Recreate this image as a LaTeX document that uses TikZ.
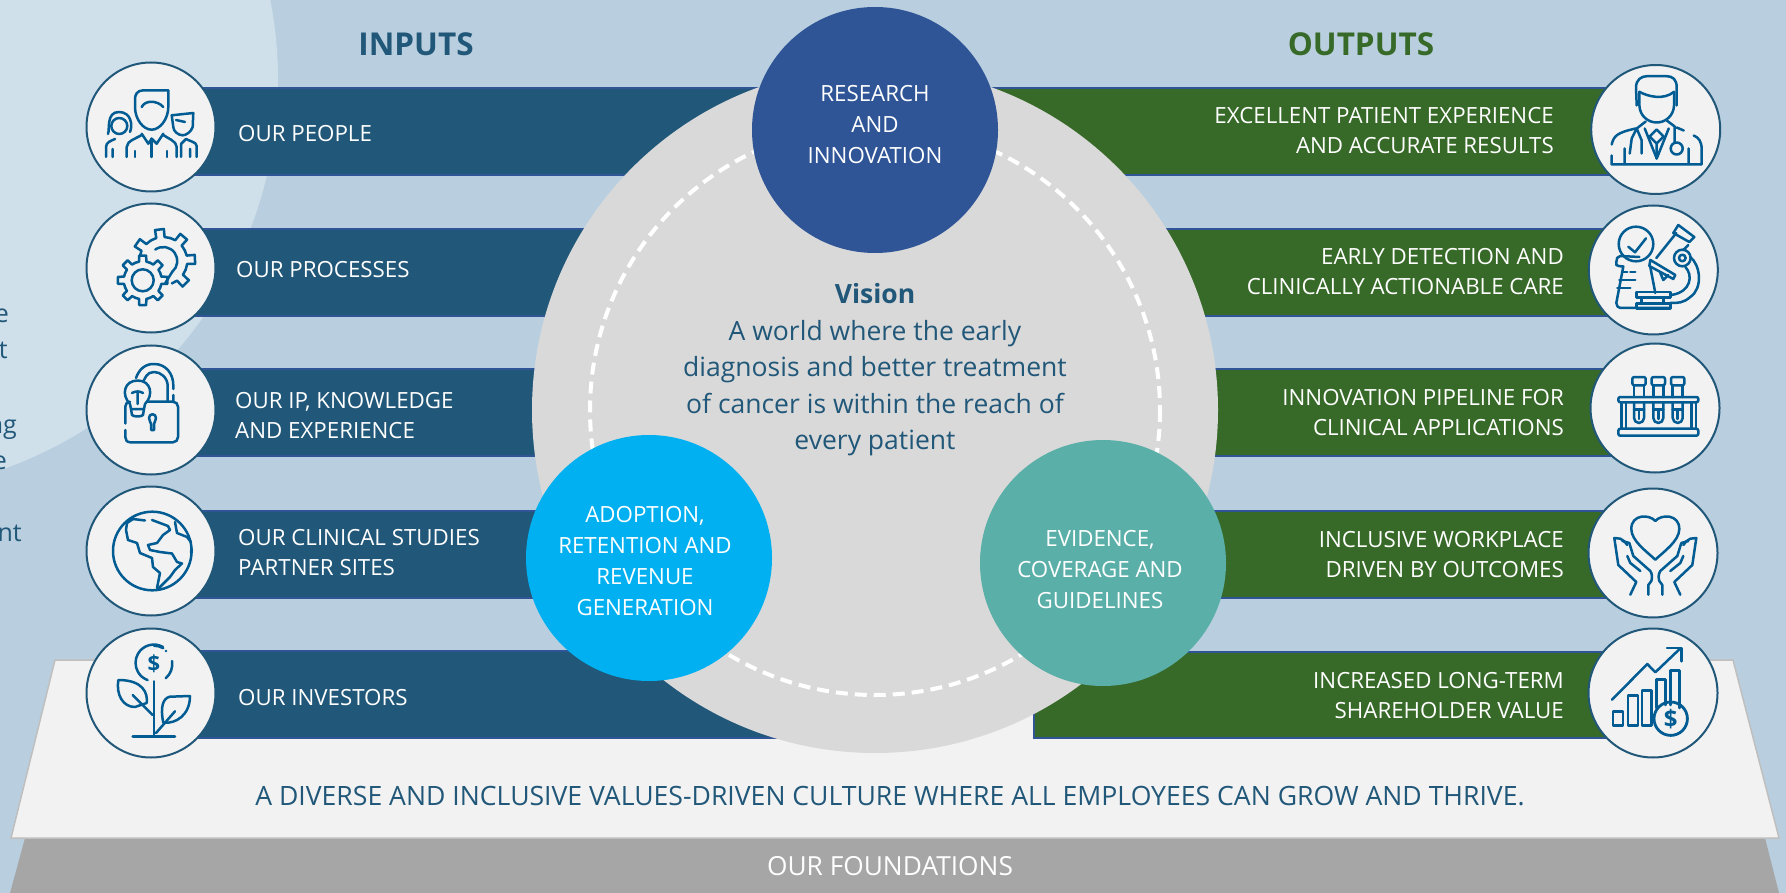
\documentclass[tikz,border=0pt]{standalone}
\usepackage{fontspec}
\setmainfont{Open Sans}
\definecolor{skyback}{HTML}{B9CFDF}
\definecolor{skylight}{HTML}{CFE0EB}
\definecolor{inblue}{HTML}{215778}
\definecolor{outgreen}{HTML}{376A28}
\definecolor{barrim}{HTML}{2F5597}
\definecolor{iconblue}{HTML}{005C92}
\definecolor{researchblue}{HTML}{2F5597}
\definecolor{adoptblue}{HTML}{00B0F0}
\definecolor{evidteal}{HTML}{5AAFA9}
\tikzset{
	inbar/.style={fill=inblue,draw=barrim,line width=1.5pt},
	outbar/.style={fill=outgreen,draw=barrim,line width=1.5pt},
	iconring/.style={circle,draw=inblue,fill=black!5,line width=2pt,minimum size=129pt,inner sep=0pt},
	iconline/.style={draw=iconblue,line width=2.5pt,line cap=round,line join=round},
	hub/.style={circle,minimum size=246pt,inner sep=0pt},
	hubtext/.style={text=white,inner sep=0pt,align=center,font=\fontsize{22.3}{31}\selectfont},
	barlabel/.style={text=white,inner sep=0pt,font=\fontsize{22.3}{30}\selectfont},
	heading/.style={font=\fontsize{31.5}{36}\selectfont\bfseries,inner sep=0pt},
	cutword/.style={text=inblue,inner sep=0pt,anchor=base east,font=\fontsize{25}{30}\selectfont}
}
%icons, drawn round the centre of their ring
\newcommand{\iconpeople}{
	\draw[iconline] (17.3,-36.7)--(-7.7,-36.7) .. controls (-14,-36.7) and (-16,-32) .. (-16,-28) -- (-16,-20) .. controls (-16,-8) and (-8,2.7) .. (0.7,2.7) .. controls (9,2.7) and (17.3,-8) .. (17.3,-20) -- cycle;
	\draw[iconline] (-9.3,-20) .. controls (-6,-27) and (6,-27) .. (12.3,-20);
	\draw[iconline] (-9.3,6.7)--(-2.7,16.7)--(0.7,11.7)--(5.7,16.7)--(12.3,6.7);
	\draw[iconline] (-24.3,30)--(-24.3,20) .. controls (-24.3,14) and (-14,11) .. (-9.3,8);
	\draw[iconline] (25.7,30)--(25.7,20) .. controls (25.7,14) and (16,11) .. (12.3,8);
	\draw[iconline] (0.7,11.7)--(0.7,30) (-16,24)--(-16,30) (16,24)--(16,30);
	\draw[iconline] (-43,7) .. controls (-41,2) and (-45,-15) .. (-32,-15) .. controls (-20,-15) and (-18,-2) .. (-21,5);
	\draw[iconline] (-31.7,-1) circle[radius=8];
	\draw[iconline] (-45,30)--(-45,20) .. controls (-45,15) and (-40,14) .. (-36,12) (-38.3,22)--(-38.3,30);
	\draw[iconline] (20.7,-11.7)--(42.3,-14)--(41.7,0) .. controls (40,5) and (35,8.3) .. (31.7,8.3) .. controls (27,8.3) and (22.3,4) .. (22.3,0) -- cycle;
	\draw[iconline] (25,-7) -- (34,-5);
	\draw[iconline] (45.7,30)--(45.7,19) .. controls (45.7,15) and (38,14) .. (35,12) -- (30,17)--(30,30) (39,22)--(39,30);
}
\newcommand{\icongears}{
	\begin{scope}[shift={(-8.3,12.3)}]
		\draw[iconline] (0,0) circle[radius=11];
		\foreach \a in {-90,-45,...,225}{
			\draw[iconline] (\a-22.5:19)--(\a-11:19)--(\a-8:25)--(\a+8:25)--(\a+11:19)--(\a+22.5:19);
		}
	\end{scope}
	\begin{scope}[shift={(12.3,-7)}]
		\foreach \a in {-145,-97,-50,-3,45}{
			\draw[iconline] (\a-24:24)--(\a-10:24)--(\a-8:32)--(\a+8:32)--(\a+10:24)--(\a+24:24);
		}
		\draw[iconline] (-125:14) arc (-125:50:14);
		\draw[iconline] (50:14)--(2,22);
	\end{scope}
}
\newcommand{\iconlock}{
	\draw[iconline] (-3.3,-8.3)--(22,-8.3) .. controls (25,-8.3) and (27,-6) .. (27,-3.3) -- (27,27) .. controls (27,30) and (25,32.3) .. (22,32.3) -- (-20.7,32.3) .. controls (-24,32.3) and (-25.7,30) .. (-25.7,27) -- (-25.7,20);
	\draw[iconline] (-25.7,13.5)--(-25.7,-3.3) .. controls (-25.7,-6) and (-24,-8) .. (-21,-8.3);
	\draw[iconline] (-15,-32) .. controls (-10,-46) and (0,-46) .. (3.3,-46) .. controls (15,-46) and (22.3,-36) .. (22.3,-25) -- (22.3,-21) (22.3,-15)--(22.3,-8.3);
	\draw[iconline] (-7,-30) .. controls (-3,-38) and (0,-38) .. (3.3,-38) .. controls (10,-38) and (16.7,-32) .. (16.7,-24) -- (16.7,-8.3);
	\draw[iconline] (-21,-6) .. controls (-30,-15) and (-27,-29.5) .. (-13.3,-29.5) .. controls (0,-29.5) and (3,-15) .. (-6,-6) -- (-7,-1) -- (-20,-1) -- cycle;
	\draw[iconline] (-20,-1)--(-19,5) .. controls (-17,7) and (-10,7) .. (-8,5) -- (-7,-1);
	\draw[iconline] (-13.3,-6)--(-13.3,-19) (-19,-17) .. controls (-16,-19) and (-11,-19) .. (-8,-17);
	\draw[iconline] (-2,8) .. controls (-2,3) and (5,3) .. (5,8) .. controls (5,11) and (3,12) .. (3,14) -- (3,20) -- (0,20) -- (0,14) .. controls (0,12) and (-2,11) .. (-2,8) -- cycle;
}
\newcommand{\iconglobe}{
	\draw[iconline] (1.3,0) circle[radius=39.3];
	\draw[iconline] (-18,-32)--(-6,-30.5) (1,-31)--(17,-25)--(19,-21)--(12,-16)--(6,-8)--(-3,-6)--(-1,-1)--(9,1)--(21,2.5)--(26,11)--(31,12.5)--(24,19)--(19,26)--(6,39);
	\draw[iconline] (6,37)--(9,22)--(2,16)--(1,7)--(-11,2)--(-14,-8)--(-23,-11)--(-25,-21)--(-24,-28)--(-18,-32);
	\draw[iconline] (24,-29)--(26,-18)--(36,-14)--(40,-9) (40.5,-3)--(40,2);
}
\newcommand{\iconplant}{
	\draw[iconline] (12,-46) arc (-60:-250:18.3);
	\draw[iconline] (3,-47.3) arc (-90:-60:18.3);
	\draw[iconline] (21,-32) arc (-10:50:18.3);
	\fill[iconblue] (15,-42) circle[radius=1.4];
	\node[text=iconblue,inner sep=0pt,font=\fontsize{22}{22}\selectfont\bfseries] (plantcoin) at (3,-29) {\$};
	\draw[iconline] (-32.7,-13) .. controls (-35,2) and (-28,14) .. (-16,14) -- (-4.3,10) .. controls (-3,0) and (-8,-13) .. (-32.7,-13);
	\draw[iconline] (-18.3,2)--(1.7,22);
	\draw[iconline] (3,-11.7)--(3,43);
	\draw[iconline] (-18.3,43.7)--(24,43.7);
	\draw[iconline] (39,3)--(19,3.7) .. controls (12,5) and (9,14) .. (12.3,29.7) .. controls (25,31) and (39,22) .. (39,3);
	\draw[iconline] (5,40)--(24,18.3);
}
\newcommand{\icondoctor}{
	\draw[iconline] (-19,-24)--(-19.7,-42) .. controls (-19.7,-50) and (-14,-53.3) .. (-9,-53.3) -- (11,-53.3) .. controls (17,-53.3) and (21,-50) .. (21,-42) -- (21,-24);
	\draw[iconline] (-16.3,-37.7)--(-16.3,-24) .. controls (-16,-14) and (-8,-7) .. (1,-7) .. controls (10,-7) and (18,-14) .. (18.3,-24) -- (18.3,-37.7);
	\draw[iconline] (-16.3,-37.7) .. controls (-8,-33) and (8,-29) .. (18.3,-37.7);
	\draw[iconline] (-19,-1)--(-10,-8) (11,-9)--(19,-3)--(19,13);
	\draw[iconline] (-19,-1)--(-24,9)--(-26,24) (-14,24)--(-14,11)--(-19,-1);
	\draw[iconline] (21,19) circle[radius=6];
	\draw[iconline] (-11,-1)--(1,29)--(13,-1);
	\draw[iconline] (-6,7)--(1,14)--(8,7)--(1,0)--cycle (1,14)--(1,29);
	\draw[iconline] (-44,15) .. controls (-42,6) and (-38,3) .. (-20,-1) (21,-2)--(28,1) (38,6) .. controls (43,8) and (46,12) .. (46,20) -- (46,35)--(-44,35)--(-44,26) (-31,19)--(-31,35) (33,19)--(33,35);
}
\newcommand{\iconscope}{
	\draw[iconline] (-17.3,-26) circle[radius=17.3];
	\draw[iconline] (-25,-23.3)--(-18.3,-17.7)--(-7.3,-31.7);
	\draw[iconline] (-14,-13)--(-33,-14) .. controls (-36,-14) and (-37,-11) .. (-37,-8) -- (-37,-5) .. controls (-36,-4) and (-33,-3.5) .. (-30,-3.5) -- (-37,33) .. controls (-37,36) and (-35,38) .. (-33,38) -- (17,38);
	\draw[iconline] (-3,-3)--(2,23);
	\draw[iconline] (-31,2)--(-26,2) (-23,2)--(-18,2) (-34,10)--(-18,10) (-36,18)--(-23,18);
	\draw[iconline] (20,-37)--(25,-45)--(41,-33)--(36,-28)--cycle;
	\draw[iconline] (23,-37)--(3,-12) (35,-25)--(30,-20);
	\draw[iconline] (-3,-10)--(22,5)--(20,9)--(-4,-4)--cycle;
	\draw[iconline] (7,3)--(10,10)--(15,5);
	\draw[iconline] (29,-12) circle[radius=8.3] (29,-12) circle[radius=3.3];
	\draw[iconline] (37,-13) .. controls (47,-5) and (50,18) .. (37,27) .. controls (30,33) and (25,33) .. (17,33);
	\draw[iconline] (32,-3) .. controls (40,5) and (38,22) .. (18,25);
	\draw[iconline] (-17,22) rectangle (17,27.3) (-17,33.3) rectangle (17.3,38.3) (-12,27.3)--(-12,33.3) (10,27.3)--(10,33.3);
}
\newcommand{\icontubes}{
	\draw[iconline,rounded corners=2pt] (-36.7,-11) rectangle (43.3,-5.7);
	\draw[iconline,rounded corners=2pt] (-36.7,20.7) rectangle (43.3,27.7);
	\foreach \x in {-33.3,-29,36.7,41}{
		\draw[iconline] (\x,-5.7)--(\x,20.7);
	}
	\foreach \x in {-16,3.3,22.7}{
		\draw[iconline,rounded corners=2pt] (\x-6.7,-31) rectangle (\x+6.7,-22.7);
		\draw[iconline] (\x-5,-22.7)--(\x-5,-11) (\x+5,-22.7)--(\x+5,-11);
		\draw[iconline] (\x-5,-5.7)--(\x-5,10) arc (180:0:5) -- (\x+5,-5.7);
		\draw[iconline] (\x-5,1.7)--(\x+5,1.7) (\x,1.7)--(\x,11);
	}
}
\newcommand{\iconhand}{
	\draw[iconline] (-25,41.7)--(-19,29)--(-37,12)--(-41,-15)--(-35,-14.3) .. controls (-32,-13) and (-30,-11) .. (-28,-8);
	\draw[iconline] (-33,-12)--(-26,-10)--(-22,3)--(-5,18) .. controls (-3,21) and (-3,25) .. (-4,28) -- (-7,32) -- (-7,41.7);
	\draw[iconline] (-28,3)--(-25,10)--(-15,18);
}
\newcommand{\iconhands}{
	\begin{scope}[xshift=2.3pt]
		\iconhand
		\begin{scope}[xscale=-1]
			\iconhand
		\end{scope}
		\draw[iconline] (0,-32) .. controls (-6,-39) and (-24,-39) .. (-24,-24) .. controls (-24,-12) and (-8,-1) .. (0,6.7) .. controls (8,-1) and (24,-12) .. (24,-24) .. controls (24,-39) and (6,-39) .. (0,-32) -- cycle;
	\end{scope}
}
\newcommand{\iconchart}{
	\draw[iconline] (-41,6.7)--(-5.7,-29)--(2.3,-20.7)--(27.7,-45);
	\draw[iconline] (14,-45)--(28.3,-45)--(28.3,-31.7);
	\draw[iconline] (-40,18.3) rectangle (-30,32.3);
	\draw[iconline] (-25,2.3) rectangle (-15,32.3);
	\draw[iconline] (-11,-2.3) rectangle (-1.7,32.3);
	\draw[iconline] (3.3,15) -- (3.3,-13.3) -- (12.7,-13.3) -- (12.7,12);
	\draw[iconline] (17.7,12) -- (17.7,-22.3) -- (26.7,-22.3) -- (26.7,15);
	\draw[iconline,line width=2.8pt] (17.7,25.7) circle[radius=16.7];
	\node[text=iconblue,inner sep=0pt,font=\fontsize{24}{24}\selectfont\bfseries] (chartcoin) at (17.7,25.7) {\$};
}
\begin{document}
\begin{tikzpicture}[x=1pt,y=-1pt]
	\useasboundingbox (0,0) rectangle (1786,893);
	\clip (0,0) rectangle (1786,893);
	%backdrop
	\fill[skyback] (0,0) rectangle (1786,893);
	\fill[skylight] (-134.6,80) circle[radius=412.6];
	\node[cutword] (cuta) at (9,323) {e};
	\node[cutword] (cutb) at (8,359) {t};
	\node[cutword] (cutc) at (17,433) {ng};
	\node[cutword] (cutd) at (7,469) {e};
	\node[cutword] (cute) at (22,541) {nt};
	%foundations
	\draw[fill=black!35,draw=none] (25,838)--(1765,838)--(1779,893)--(10,893)--cycle;
	\draw[fill=black!5,draw=black!25,line width=1.5pt] (55,660)--(1733,660)--(1779,838)--(11,838)--cycle;
	\node[text=inblue,inner sep=0pt,font=\fontsize{26.6}{30}\selectfont] (culture) at (890,796) {A DIVERSE AND INCLUSIVE VALUES-DRIVEN CULTURE WHERE ALL EMPLOYEES CAN GROW AND THRIVE.};
	\node[text=white,inner sep=0pt,font=\fontsize{26.3}{30}\selectfont] (foundations) at (890,866) {OUR FOUNDATIONS};
	%bars
	\foreach \y in {88,229,369,511,651}{
		\draw[inbar] (170,\y) rectangle (800,\y+87);
	}
	\foreach \y in {88,229,369,511}{
		\draw[outbar] (950,\y) rectangle (1640,\y+87);
	}
	\draw[outbar] (1034,652) rectangle (1640,738);
	%centre
	\fill[black!15] (875,410) circle[radius=343];
	\draw[white,line width=4pt,dash pattern=on 12pt off 7pt] (875,410) circle[radius=285];
	\node[hub,fill=researchblue] (research) at (875,130) {};
	\node[hub,fill=adoptblue] (adoption) at (649,558) {};
	\node[hub,fill=evidteal] (evidence) at (1103,563) {};
	\node[hubtext] (researchtxt) at (875,125) {RESEARCH\\AND\\INNOVATION};
	\node[hubtext] (adoptiontxt) at (645,561) {ADOPTION,\\RETENTION AND\\REVENUE\\GENERATION};
	\node[hubtext] (evidencetxt) at (1100,570) {EVIDENCE,\\COVERAGE AND\\GUIDELINES};
	\node[text=inblue,align=center,inner sep=0pt,font=\fontsize{26.5}{36.5}\selectfont] (vision) at (875,370) {\textbf{Vision}\\A world where the early\\diagnosis and better treatment\\of cancer is within the reach of\\every patient};
	%headings
	\node[heading,text=inblue] (inputs) at (416,44) {INPUTS};
	\node[heading,text=outgreen] (outputs) at (1361,44) {OUTPUTS};
	%rings
	\foreach \nm/\y in {inpeople/127,inprocess/268,inip/410,instudies/551,ininvest/693}{
		\node[iconring] (\nm) at (151,\y) {};
	}
	\foreach \nm/\x/\y in {outpatient/1655.7/129.5,outdetect/1653.3/270,outpipe/1655/408,outwork/1653/553,outvalue/1653/693}{
		\node[iconring] (\nm) at (\x,\y) {};
	}
	\begin{scope}[shift={(inpeople)}] \iconpeople \end{scope}
	\begin{scope}[shift={(inprocess)}] \icongears \end{scope}
	\begin{scope}[shift={(inip)}] \iconlock \end{scope}
	\begin{scope}[shift={(instudies)}] \iconglobe \end{scope}
	\begin{scope}[shift={(ininvest)}] \iconplant \end{scope}
	\begin{scope}[shift={(outpatient)}] \icondoctor \end{scope}
	\begin{scope}[shift={(outdetect)}] \iconscope \end{scope}
	\begin{scope}[shift={(outpipe)}] \icontubes \end{scope}
	\begin{scope}[shift={(outwork)}] \iconhands \end{scope}
	\begin{scope}[shift={(outvalue)}] \iconchart \end{scope}
	%bar labels
	\foreach \nm/\x/\y/\txt in {lblpeople/238/134/{OUR PEOPLE},lblprocess/236/270/{OUR PROCESSES},lblip/235/416/{OUR IP, KNOWLEDGE\\AND EXPERIENCE},lblstudies/238/553/{OUR CLINICAL STUDIES\\PARTNER SITES},lblinvest/238/698/{OUR INVESTORS}}{
		\node[barlabel,anchor=west,align=left] (\nm) at (\x,\y) {\txt};
	}
	\foreach \nm/\x/\y/\txt in {lblpatient/1554/131/{EXCELLENT PATIENT EXPERIENCE\\AND ACCURATE RESULTS},lbldetect/1564/272/{EARLY DETECTION AND\\CLINICALLY ACTIONABLE CARE},lblpipe/1564/413/{INNOVATION PIPELINE FOR\\CLINICAL APPLICATIONS},lblwork/1564/555/{INCLUSIVE WORKPLACE\\DRIVEN BY OUTCOMES},lblvalue/1564/696/{INCREASED LONG-TERM\\SHAREHOLDER VALUE}}{
		\node[barlabel,anchor=east,align=right] (\nm) at (\x,\y) {\txt};
	}
\end{tikzpicture}
\end{document}
